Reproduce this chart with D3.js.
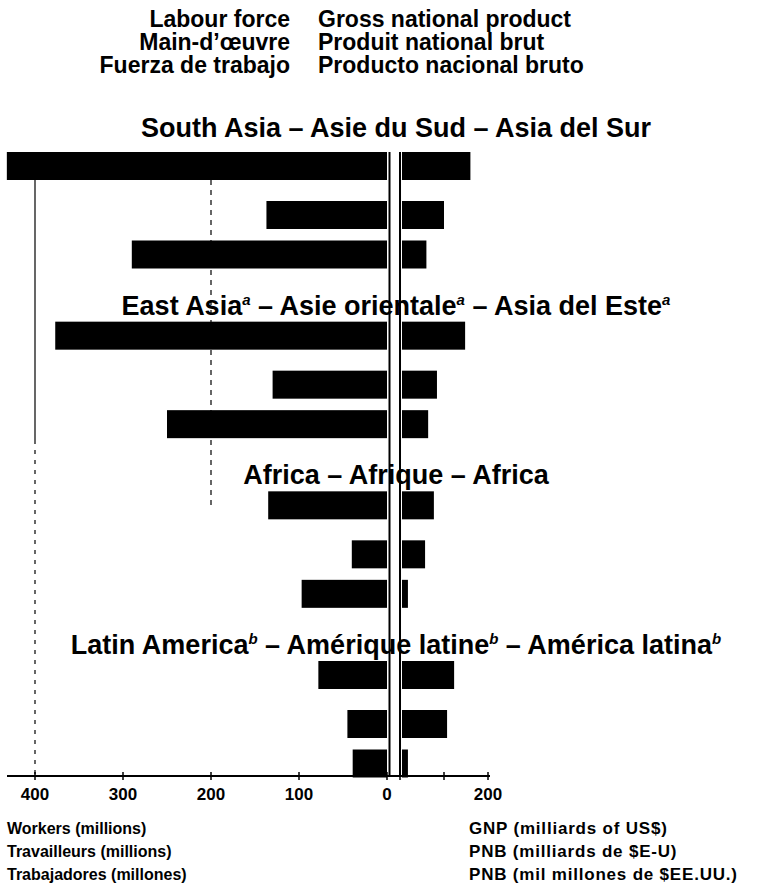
<!DOCTYPE html>
<html><head><meta charset="utf-8">
<script src="https://cdn.jsdelivr.net/npm/d3@7"></script>
<style>
body{margin:0;background:#fff}
svg{display:block}
text{font-family:"Liberation Sans",Arial,Helvetica,sans-serif;font-weight:bold;fill:#000}
</style>
</head><body>
<svg id="c" width="761" height="889"></svg>
<script>
// ---------- DATA ----------
const regions = ["South Asia", "East Asia", "Africa", "Latin America"];
// title segments: [text, isSuperscript]
const regionTitles = [
  [["South Asia  \u2013  Asie du Sud  \u2013  Asia del Sur", false]],
  [["East Asia", false], ["a", true], ["  \u2013  Asie orientale", false], ["a", true], ["  \u2013  Asia del Este", false], ["a", true]],
  [["Africa  \u2013  Afrique  \u2013  Africa", false]],
  [["Latin America", false], ["b", true], ["  \u2013  Am\u00e9rique latine", false], ["b", true], ["  \u2013  Am\u00e9rica latina", false], ["b", true]]
];
// three bars per region (millions of workers / milliards of US$)
const labourForce = [
  [432, 137, 290],
  [377, 130, 250],
  [135, 40, 97],
  [78, 45, 39]
];
const gnp = [
  [160, 100, 60],
  [148, 84, 64],
  [77, 57, 18],
  [123, 107, 18]
];
const labourTicks = [400, 300, 200, 100, 0];
const gnpTicks = [0, 100, 200];
const gnpTickLabels = [200];
const headerLeft = ["Labour force", "Main-d\u2019\u0153uvre", "Fuerza de trabajo"];
const headerRight = ["Gross national product", "Produit national brut", "Producto nacional bruto"];
const footLeft = ["Workers (millions)", "Travailleurs (millions)", "Trabajadores (millones)"];
const footRight = ["GNP  (milliards of US$)", "PNB  (milliards de $E-U)", "PNB  (mil millones de $EE.UU.)"];

// ---------- LAYOUT ----------
const svg = d3.select("#c");
const xL = d3.scaleLinear().domain([0, 400]).range([387, 35]);
const xR = d3.scaleLinear().domain([0, 200]).range([400, 488]);
const yGroup = d3.scaleLinear().domain([0, 3]).range([152, 661]);
const yRow = d3.scaleOrdinal().domain([0, 1, 2]).range([0, 49, 88.5]);
const barH = 28;
const axisY = 776;

// gridlines
svg.append("line").attr("x1", xL(400)).attr("x2", xL(400)).attr("y1", 152).attr("y2", 440)
  .attr("stroke", "#000").attr("stroke-width", 1.2);
svg.append("line").attr("x1", xL(400)).attr("x2", xL(400)).attr("y1", 440).attr("y2", axisY)
  .attr("stroke", "#000").attr("stroke-width", 1.2).attr("stroke-dasharray", "4,6");
svg.append("line").attr("x1", xL(200)).attr("x2", xL(200)).attr("y1", 180).attr("y2", 510)
  .attr("stroke", "#000").attr("stroke-width", 1.2).attr("stroke-dasharray", "5,5");

// center lines
svg.append("line").attr("x1", xL(0) + 2.5).attr("x2", xL(0) + 2.5).attr("y1", 152).attr("y2", axisY)
  .attr("stroke", "#000").attr("stroke-width", 2);
svg.append("line").attr("x1", xR(0)).attr("x2", xR(0)).attr("y1", 152).attr("y2", axisY)
  .attr("stroke", "#000").attr("stroke-width", 2);

// bars
const rows = [];
regions.forEach((r, g) => {
  for (let i = 0; i < 3; i++) rows.push({g, i, lab: labourForce[g][i], gnp: gnp[g][i]});
});
svg.selectAll("rect.lab").data(rows).join("rect").attr("class", "lab")
  .attr("x", d => xL(d.lab)).attr("width", d => xL(0) - xL(d.lab))
  .attr("y", d => yGroup(d.g) + yRow(d.i)).attr("height", barH).attr("fill", "#000");
svg.selectAll("rect.gnp").data(rows).join("rect").attr("class", "gnp")
  .attr("x", xR(0) + 2).attr("width", d => xR(d.gnp) - xR(0) - 2)
  .attr("y", d => yGroup(d.g) + yRow(d.i)).attr("height", barH).attr("fill", "#000");

// region titles
regionTitles.forEach((segs, g) => {
  const ty = yGroup(g) - (g === 0 ? 15 : 7);
  const t = svg.append("text").attr("x", 396).attr("y", ty).attr("text-anchor", "middle")
    .style("font-size", "27px");
  let shifted = false;
  segs.forEach(([s, sup]) => {
    const ts = t.append("tspan").text(s);
    if (sup) { ts.attr("dy", -10).style("font-size", "15px").style("font-style", "italic"); shifted = true; }
    else if (shifted) { ts.attr("dy", 10); shifted = false; }
  });
});

// axis
svg.append("line").attr("x1", 7).attr("x2", 490).attr("y1", axisY).attr("y2", axisY)
  .attr("stroke", "#000").attr("stroke-width", 2);
svg.selectAll("line.tl").data(labourTicks).join("line").attr("class", "tl")
  .attr("x1", d => xL(d)).attr("x2", d => xL(d)).attr("y1", axisY - 4).attr("y2", axisY + 4)
  .attr("stroke", "#000").attr("stroke-width", 1.5);
svg.selectAll("line.tr").data(gnpTicks).join("line").attr("class", "tr")
  .attr("x1", d => xR(d)).attr("x2", d => xR(d)).attr("y1", axisY - 4).attr("y2", axisY + 4)
  .attr("stroke", "#000").attr("stroke-width", 1.5);
svg.selectAll("text.tlab").data(labourTicks).join("text").attr("class", "tlab")
  .attr("x", d => xL(d)).attr("y", axisY + 24).attr("text-anchor", "middle")
  .style("font-size", "17px").text(d => d);
svg.selectAll("text.trab").data(gnpTickLabels).join("text").attr("class", "trab")
  .attr("x", d => xR(d)).attr("y", axisY + 24).attr("text-anchor", "middle")
  .style("font-size", "17px").text(d => d);

// header
headerLeft.forEach((s, i) => svg.append("text").attr("x", 290).attr("y", 27 + i * 23)
  .attr("text-anchor", "end").style("font-size", "23px").text(s));
headerRight.forEach((s, i) => svg.append("text").attr("x", 318).attr("y", 27 + i * 23)
  .style("font-size", "23px").text(s));

// footer
footLeft.forEach((s, i) => svg.append("text").attr("x", 7).attr("y", 834 + i * 23)
  .style("font-size", "16px").text(s));
footRight.forEach((s, i) => svg.append("text").attr("x", 469).attr("y", 834 + i * 23)
  .style("font-size", "17px").style("letter-spacing", "0.8px").text(s));
</script>
</body></html>
